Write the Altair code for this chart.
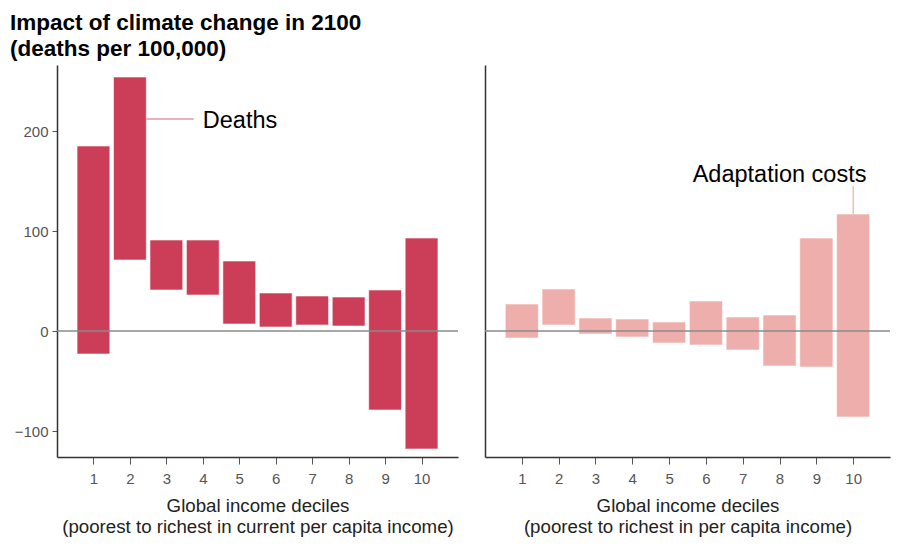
import altair as alt
import pandas as pd

# ---- data ----
deciles = [1, 2, 3, 4, 5, 6, 7, 8, 9, 10]
deaths_low = [-23, 71, 41, 36, 7, 4, 6, 5, -79, -118]
deaths_high = [185, 254, 91, 91, 70, 38, 35, 34, 41, 93]
adapt_low = [-7, 6, -3, -6, -12, -14, -19, -35, -36, -86]
adapt_high = [27, 42, 13, 12, 9, 30, 14, 16, 93, 117]
tick_values = [1, 2, 3, 4, 5, 6, 7, 8, 9, 10]
y_ticks = [-100, 0, 100, 200]
zero = [0]

deaths_label = ["Deaths"]
deaths_label_x = [4.0]
deaths_label_y = [212]
deaths_leader_x = [2.45]
deaths_leader_x2 = [3.75]

adapt_label = ["Adaptation costs"]
adapt_label_x = [8.0]
adapt_label_y = [149]
adapt_leader_x = [10]
adapt_leader_y = [117]
adapt_leader_y2 = [145]

title_lines = ["Impact of climate change in 2100", "(deaths per 100,000)"]
xtitle_left = ["Global income deciles", "(poorest to richest in current per capita income)"]
xtitle_right = ["Global income deciles", "(poorest to richest in per capita income)"]

FONT = "Liberation Sans"
DEATH_COLOR = "#cc3d58"
ADAPT_COLOR = "#eeaeab"

deaths_df = pd.DataFrame({"decile": deciles, "low": deaths_low, "high": deaths_high})
adapt_df = pd.DataFrame({"decile": deciles, "low": adapt_low, "high": adapt_high})
zero_df = pd.DataFrame({"v": zero})

x_scale = alt.Scale(domain=[0, 11], nice=False, zero=False)
y_scale = alt.Scale(domain=[-126, 266], nice=False, zero=False)


def x_axis(title):
    return alt.Axis(values=tick_values, title=title, grid=False, tickSize=7,
                    labelPadding=7, titlePadding=10, titleLineHeight=21.5,
                    labelFlush=False)


def panel(df, color, xtitle, y_axis, width, label_df, leader_df, leader_vertical):
    xa = x_axis(xtitle)
    bars = alt.Chart(df).transform_calculate(
        x1="datum.decile - 0.45", x2="datum.decile + 0.45"
    ).mark_bar(color=color, stroke="white", strokeWidth=0.6).encode(
        x=alt.X("x1:Q", scale=x_scale, axis=xa),
        x2="x2:Q",
        y=alt.Y("low:Q", scale=y_scale, axis=y_axis),
        y2="high:Q",
    )
    rule0 = alt.Chart(zero_df).mark_rule(color="#8a8a8a", strokeWidth=1.5).encode(
        y=alt.Y("v:Q", scale=y_scale, axis=y_axis)
    )
    if leader_vertical:
        leader = alt.Chart(leader_df).mark_rule(color=color, strokeWidth=1.2).encode(
            x=alt.X("x:Q", scale=x_scale, axis=xa),
            y=alt.Y("y:Q", scale=y_scale, axis=y_axis),
            y2="y2:Q",
        )
        txt = alt.Chart(label_df).mark_text(
            font=FONT, fontSize=23.5, align="center", baseline="alphabetic", color="black"
        ).encode(
            x=alt.X("x:Q", scale=x_scale, axis=xa),
            y=alt.Y("y:Q", scale=y_scale, axis=y_axis),
            text="label:N",
        )
    else:
        leader = alt.Chart(leader_df).mark_rule(color="#d9607a", strokeWidth=1.2).encode(
            x=alt.X("x:Q", scale=x_scale, axis=xa),
            x2="x2:Q",
            y=alt.Y("y:Q", scale=y_scale, axis=y_axis),
        )
        txt = alt.Chart(label_df).mark_text(
            font=FONT, fontSize=23.5, align="left", baseline="middle", color="black", dy=2
        ).encode(
            x=alt.X("x:Q", scale=x_scale, axis=xa),
            y=alt.Y("y:Q", scale=y_scale, axis=y_axis),
            text="label:N",
        )
    return alt.layer(bars, rule0, leader, txt).properties(width=width, height=392)


left_y_axis = alt.Axis(values=y_ticks, title=None, grid=False, tickSize=5,
                       labelPadding=4, minExtent=47)
right_y_axis = alt.Axis(labels=False, ticks=False, title=None, grid=False, minExtent=0)

left = panel(
    deaths_df, DEATH_COLOR, xtitle_left, left_y_axis, 401,
    pd.DataFrame({"label": deaths_label, "x": deaths_label_x, "y": deaths_label_y}),
    pd.DataFrame({"x": deaths_leader_x, "x2": deaths_leader_x2, "y": deaths_label_y}),
    False,
)
right = panel(
    adapt_df, ADAPT_COLOR, xtitle_right, right_y_axis, 405,
    pd.DataFrame({"label": adapt_label, "x": adapt_label_x, "y": adapt_label_y}),
    pd.DataFrame({"x": adapt_leader_x, "y": adapt_leader_y, "y2": adapt_leader_y2}),
    True,
)

chart = alt.hconcat(left, right, spacing=25).properties(
    title=alt.TitleParams(
        text=title_lines, anchor="start", fontSize=22.5, fontWeight="bold",
        font=FONT, lineHeight=26, offset=5, color="black",
    ),
    padding={"left": 2, "top": 3, "right": 5, "bottom": 5},
).configure_view(strokeWidth=0).configure_axis(
    labelFont=FONT, titleFont=FONT, labelFontSize=15, titleFontSize=18.7,
    labelColor="#555555", titleColor="#222222", titleFontWeight="normal",
    domainColor="#333333", domainWidth=1.5, tickColor="#555555", tickWidth=1,
)

chart.save("out.html", embed_options={"renderer": "svg", "actions": False})
